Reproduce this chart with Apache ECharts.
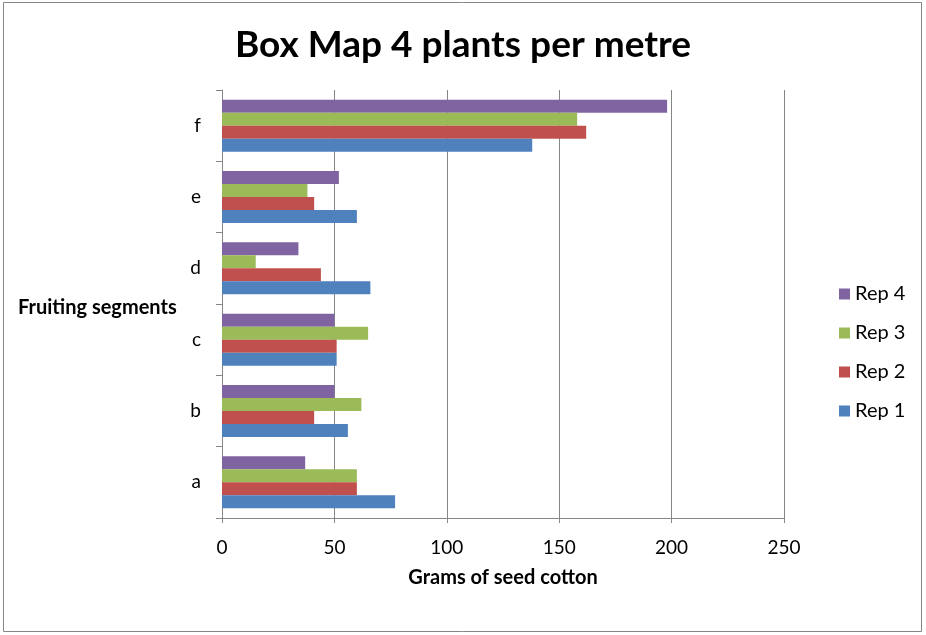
<!DOCTYPE html>
<html>
<head>
<meta charset="utf-8">
<script src="https://cdn.jsdelivr.net/npm/echarts@6/dist/echarts.min.js"></script>
<style>
  html, body { margin: 0; padding: 0; background: #fff; }
  #chart { width: 926px; height: 635px; }
</style>
</head>
<body>
<div id="chart"></div>
<script>
// Fruiting segments, bottom to top
var segments = ['a', 'b', 'c', 'd', 'e', 'f'];
// Grams of seed cotton per replicate
var rep1 = [77, 56, 51, 66, 60, 138];
var rep2 = [60, 41, 51, 44, 41, 162];
var rep3 = [60, 62, 65, 15, 38, 158];
var rep4 = [37, 50, 50, 34, 52, 198];
var repNames = ['Rep 1', 'Rep 2', 'Rep 3', 'Rep 4'];
var repColors = ['#4F81BD', '#C0504D', '#9BBB59', '#8064A2'];
var xTicks = [0, 50, 100, 150, 200, 250];

var font = 'Lato, "Open Sans", sans-serif';
var repValues = [rep1, rep2, rep3, rep4];

var chart = echarts.init(document.getElementById('chart'), null, { renderer: 'canvas' });

// Within each group the first series is drawn on top, so add Rep 4 first
var series = [];
for (var i = repValues.length - 1; i >= 0; i--) {
  series.push({
    name: repNames[i],
    type: 'bar',
    data: repValues[i],
    barGap: '0%',
    barCategoryGap: '27%',
    itemStyle: { color: repColors[i] },
    emphasis: { disabled: true }
  });
}

chart.setOption({
  animation: false,
  backgroundColor: '#ffffff',
  title: [
    {
      text: 'Box Map 4 plants per metre',
      left: 'center',
      top: 22,
      textStyle: { fontFamily: font, fontSize: 37, fontWeight: 'bold', color: '#000' }
    },
    {
      text: 'Fruiting segments',
      left: 13,
      top: 293,
      textStyle: { fontFamily: font, fontSize: 20, fontWeight: 'bold', color: '#000' }
    }
  ],
  legend: {
    orient: 'vertical',
    left: 834,
    top: 279,
    itemWidth: 11,
    itemHeight: 11,
    itemGap: 19,
    icon: 'rect',
    data: ['Rep 4', 'Rep 3', 'Rep 2', 'Rep 1'],
    textStyle: { fontFamily: font, fontSize: 20, color: '#000' }
  },
  grid: { left: 222, right: 142, top: 90, bottom: 117, containLabel: false },
  xAxis: {
    type: 'value',
    min: xTicks[0],
    max: xTicks[xTicks.length - 1],
    interval: 50,
    name: 'Grams of seed cotton',
    nameLocation: 'middle',
    nameGap: 50,
    nameTextStyle: { fontFamily: font, fontSize: 20, fontWeight: 'bold', color: '#000' },
    axisLine: { show: true, lineStyle: { color: '#868686', width: 1 } },
    axisTick: { show: true, length: 5, lineStyle: { color: '#868686' } },
    axisLabel: { fontFamily: font, fontSize: 19, color: '#000', margin: 20 },
    splitLine: { show: true, lineStyle: { color: '#868686', width: 1 } }
  },
  yAxis: {
    type: 'category',
    data: segments,
    axisLine: { show: true, lineStyle: { color: '#868686', width: 1 } },
    axisTick: { show: true, length: 6, lineStyle: { color: '#868686' } },
    axisLabel: { fontFamily: font, fontSize: 19, color: '#000', margin: 21 },
    splitLine: { show: false }
  },
  graphic: [
    {
      type: 'rect',
      shape: { x: 3.5, y: 2.5, width: 918, height: 629 },
      style: { fill: 'none', stroke: '#868686', lineWidth: 1 },
      silent: true
    }
  ],
  series: series
});
</script>
</body>
</html>
